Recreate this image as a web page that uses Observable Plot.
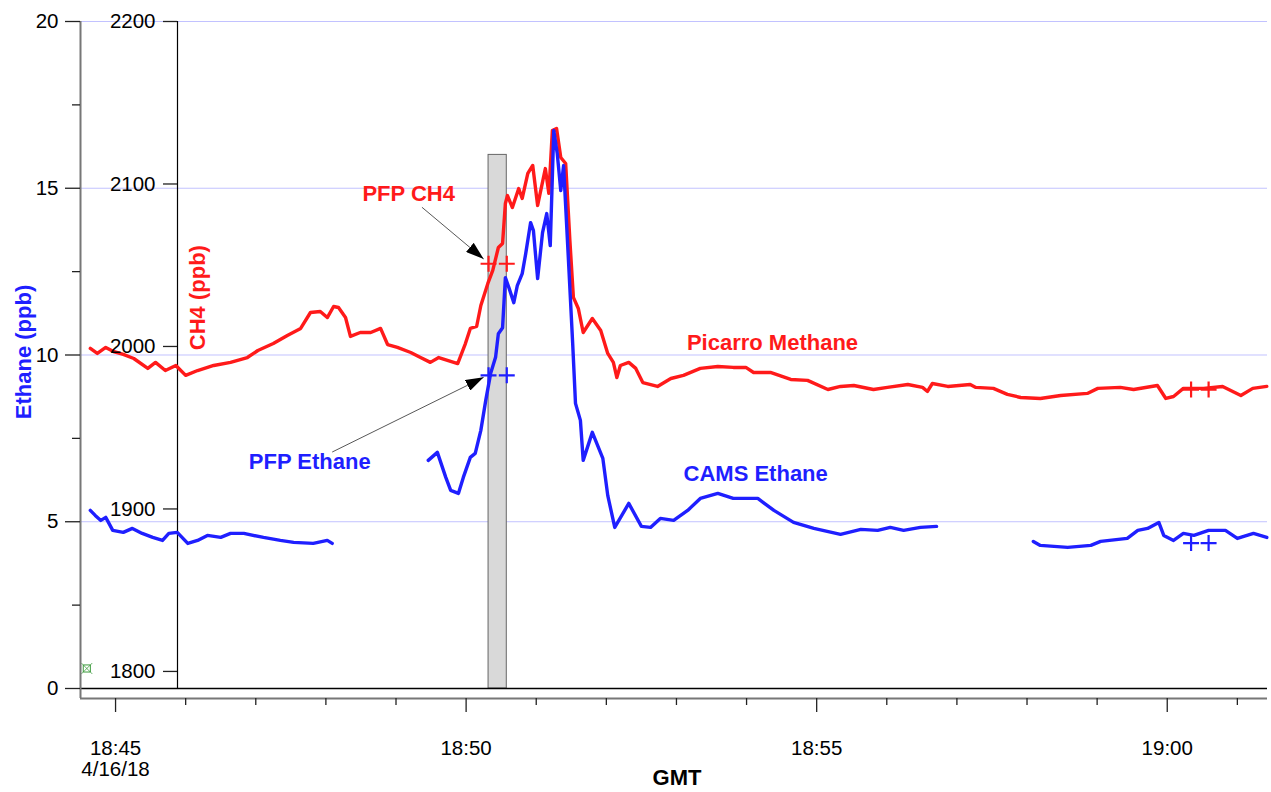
<!DOCTYPE html>
<html>
<head>
<meta charset="utf-8">
<script src="https://cdn.jsdelivr.net/npm/d3@7"></script>
<script src="https://cdn.jsdelivr.net/npm/@observablehq/plot@0.6"></script>
<style>
html, body { margin: 0; padding: 0; background: #fff; }
#chart svg { display: block; }
</style>
</head>
<body>
<div id="chart"></div>
<script>
// ---- DATA (time in minutes after 18:00 GMT, 4/16/18) ----
const ch4Time = [44.64,44.74,44.86,44.97,45.11,45.26,45.46,45.57,45.71,45.86,46.00,46.17,46.40,46.64,46.88,47.03,47.25,47.45,47.64,47.78,47.92,48.02,48.11,48.18,48.28,48.35,48.49,48.64,48.78,48.88,49.02,49.21,49.35,49.49,49.61,49.88,49.99,50.06,50.15,50.21,50.31,50.38,50.46,50.52,50.56,50.59,50.66,50.75,50.80,50.88,50.95,51.02,51.13,51.18,51.23,51.29,51.35,51.42,51.48,51.53,51.60,51.67,51.80,51.92,52.02,52.10,52.15,52.20,52.32,52.42,52.52,52.73,52.92,53.10,53.34,53.59,53.81,53.99,54.10,54.34,54.63,54.87,55.16,55.34,55.53,55.81,56.01,56.30,56.51,56.58,56.65,56.87,57.19,57.27,57.52,57.72,57.91,58.19,58.48,58.86,59.01,59.33,59.52,59.86,59.98,60.09,60.23,60.52,60.79,61.05,61.22,61.42];
const ch4Value = [1998.8,1995.7,1999.4,1996.9,1995.1,1992.6,1986.5,1990.2,1985.2,1988.3,1982.2,1985.2,1988.3,1990.2,1993.2,1997.5,2001.8,2006.8,2011.1,2020.9,2021.5,2017.8,2024.6,2024.0,2017.8,2006.2,2008.6,2008.6,2011.1,2001.2,1999.4,1996.3,1993.2,1990.2,1993.2,1989.5,2001.8,2011.1,2012.3,2025.2,2038.8,2046.8,2060.9,2063.4,2088.0,2092.9,2085.5,2097.2,2091.1,2106.5,2111.4,2086.8,2109.5,2094.2,2132.9,2134.2,2116.3,2112.6,2065.2,2030.2,2023.4,2008.6,2017.2,2009.8,1995.7,1990.2,1980.9,1988.3,1990.2,1986.5,1977.8,1975.4,1980.3,1982.2,1986.5,1987.7,1987.1,1987.1,1984.0,1984.0,1979.7,1979.1,1973.5,1975.4,1976.0,1973.5,1974.8,1976.6,1974.8,1972.3,1977.2,1975.4,1976.6,1974.8,1974.2,1970.5,1968.6,1968.0,1969.8,1971.1,1974.2,1974.8,1973.5,1976.0,1968.0,1969.2,1974.2,1974.2,1975.4,1969.8,1974.2,1975.4];

const ethaneTime = [44.64,44.71,44.79,44.86,44.96,45.11,45.24,45.38,45.53,45.67,45.76,45.88,46.03,46.17,46.31,46.50,46.64,46.83,47.11,47.35,47.54,47.82,48.02,48.09,
  48.80,
  49.46,49.59,49.71,49.78,49.89,49.96,50.06,50.13,50.21,50.28,50.35,50.42,50.46,50.52,50.56,50.61,50.68,50.73,50.80,50.85,50.92,50.96,51.02,51.09,51.15,51.20,51.25,51.30,51.35,51.39,51.46,51.52,51.56,51.63,51.67,51.80,51.95,52.02,52.12,52.32,52.50,52.63,52.77,52.96,53.16,53.34,53.59,53.81,54.16,54.39,54.67,54.96,55.34,55.63,55.87,56.05,56.24,56.48,56.71,
  57.40,
  58.09,58.19,58.58,58.91,59.05,59.43,59.58,59.72,59.88,59.95,60.09,60.23,60.38,60.59,60.83,61.00,61.23,61.42];
const ethaneValue = [5.34,5.19,5.04,5.13,4.74,4.68,4.80,4.65,4.53,4.44,4.65,4.68,4.35,4.44,4.59,4.53,4.65,4.65,4.53,4.44,4.38,4.35,4.44,4.35,
  NaN,
  6.84,7.08,6.33,5.94,5.85,6.33,6.93,7.05,7.74,8.64,9.45,9.93,10.64,10.82,12.32,12.02,11.57,12.08,12.44,13.04,13.97,13.73,12.29,13.67,14.24,13.28,16.73,16.04,14.93,15.68,12.83,10.34,8.55,8.04,6.84,7.68,6.90,5.79,4.83,5.55,4.86,4.83,5.10,5.04,5.34,5.70,5.85,5.70,5.70,5.34,4.98,4.80,4.62,4.77,4.74,4.83,4.74,4.83,4.86,
  NaN,
  4.41,4.29,4.23,4.29,4.41,4.50,4.74,4.80,4.98,4.59,4.44,4.65,4.59,4.74,4.74,4.50,4.65,4.53];

// PFP flask samples (fill start / end)
const pfpStart = [50.32, 60.34];
const pfpEnd = [50.58, 60.59];
const pfpCH4 = [2050.9, 1973.5];
const pfpEthane = [9.39, 4.36];
const sampleWindowTop = 16;          // ethane ppb, shaded fill window of first PFP

// single stray marker near the origin
const markerTime = [44.59];
const markerValue = [0.6];

// axes
const xDomainMin = [44.5, 61.43];
const xTickMinutes = [45, 50, 55, 60];
const xTickLabels = ["18:45\n4/16/18", "18:50", "18:55", "19:00"];
const xMinorMinutes = [46, 47, 48, 49, 51, 52, 53, 54, 56, 57, 58, 59, 61];
const ethaneTicks = [0, 5, 10, 15, 20];
const ethaneMinorTicks = [2.5, 7.5, 12.5, 17.5];
const ethaneGrid = [5, 10, 15, 20];
const ch4Ticks = [1800, 1900, 2000, 2100, 2200];
const ch4Range = [1789.5, 2200];     // CH4 span matching ethane [0, 20]

// annotations (positions in minutes / ethane-axis units)
const labelText = ["PFP CH4", "PFP Ethane", "Picarro Methane", "CAMS Ethane"];
const labelTime = [49.18, 47.77, 54.37, 54.13];
const labelValue = [14.84, 6.78, 10.35, 6.42];
const labelColor = ["red", "blue", "red", "blue"];
const arrowFromTime = [49.37, 48.09];
const arrowFromValue = [14.43, 7.09];
const arrowToTime = [50.25, 50.25];
const arrowToValue = [12.88, 9.33];

// ---- helpers ----
const RED = "#ff1a1a";
const BLUE = "#1f1fff";
const colorOf = {red: RED, blue: BLUE};
const ethSpan = [0, 20];
const toEth = c => (c - ch4Range[0]) / (ch4Range[1] - ch4Range[0]) * (ethSpan[1] - ethSpan[0]);
const fromEth = e => ch4Range[0] + e / (ethSpan[1] - ethSpan[0]) * (ch4Range[1] - ch4Range[0]);

const ch4Data = ch4Time.map((t, i) => ({t, v: toEth(ch4Value[i])}));
const ethData = ethaneTime.map((t, i) => ({t, v: ethaneValue[i]}));
const pfpPts = pfpStart.flatMap((s, i) => [s, pfpEnd[i]].map(t => ({t, ch4: toEth(pfpCH4[i]), eth: pfpEthane[i]})));
const windowRect = [{x1: pfpStart[0], x2: pfpEnd[0], y1: 0, y2: sampleWindowTop}];
const labels = labelText.map((text, i) => ({text, t: labelTime[i], v: labelValue[i], c: colorOf[labelColor[i]]}));
const arrows = arrowFromTime.map((t, i) => ({x1: t, y1: arrowFromValue[i], x2: arrowToTime[i], y2: arrowToValue[i]}));
const stray = markerTime.map((t, i) => ({t, v: markerValue[i]}));

function arrowHead(color, context) {
  const doc = (context && context.document) || document;
  const ns = "http://www.w3.org/2000/svg";
  const m = doc.createElementNS(ns, "marker");
  m.setAttribute("viewBox", "-18 -6 18 12");
  m.setAttribute("markerWidth", "18");
  m.setAttribute("markerHeight", "12");
  m.setAttribute("markerUnits", "userSpaceOnUse");
  m.setAttribute("orient", "auto");
  m.setAttribute("refX", "0");
  m.setAttribute("refY", "0");
  const p = doc.createElementNS(ns, "path");
  p.setAttribute("d", "M0,0L-18,-6L-18,6Z");
  p.setAttribute("fill", "black");
  p.setAttribute("stroke", "none");
  m.appendChild(p);
  return m;
}

const FONT = "'Liberation Sans', Arial, Helvetica, sans-serif";
const ch4AxisOffset = 97;

const chart = Plot.plot({
  width: 1271,
  height: 792,
  marginLeft: 80,
  marginRight: 4,
  marginTop: 21,
  marginBottom: 94,
  style: {fontFamily: FONT, fontSize: "20px", color: "black", background: "white"},
  x: {type: "linear", domain: xDomainMin, axis: null},
  y: {type: "linear", domain: [-0.3, 20], axis: null},
  marks: [
    Plot.ruleY(ethaneGrid, {stroke: "#c2c2ff", strokeWidth: 1}),
    Plot.rect(windowRect, {x1: "x1", x2: "x2", y1: "y1", y2: "y2", fill: "#d9d9d9", stroke: "#666", strokeWidth: 1}),
    Plot.ruleY([0], {stroke: "black", strokeWidth: 1.5}),
    Plot.ruleX([xDomainMin[0]], {y1: 0, y2: 20, dx: ch4AxisOffset, stroke: "black", strokeWidth: 1.2}),
    Plot.line(ch4Data, {x: "t", y: "v", stroke: RED, strokeWidth: 3.4, strokeLinejoin: "round"}),
    Plot.line(ethData, {x: "t", y: "v", stroke: BLUE, strokeWidth: 3.4, strokeLinejoin: "round"}),
    Plot.dot(pfpPts, {x: "t", y: "ch4", symbol: "plus", r: 5.2, stroke: RED, strokeWidth: 2.2}),
    Plot.dot(pfpPts, {x: "t", y: "eth", symbol: "plus", r: 5.2, stroke: BLUE, strokeWidth: 2.2}),
    Plot.dot(stray, {x: "t", y: "v", symbol: "square", r: 4, stroke: "#3c9a3c", strokeWidth: 1}),
    Plot.dot(stray, {x: "t", y: "v", symbol: "times", r: 5, stroke: "#3c9a3c", strokeWidth: 0.8}),
    Plot.link(arrows, {x1: "x1", y1: "y1", x2: "x2", y2: "y2", stroke: "#444", strokeWidth: 0.9, markerEnd: arrowHead}),
    Plot.text(labels, {x: "t", y: "v", text: "text", fill: "c", fontSize: 22, fontWeight: "bold"}),
    // axis titles
    Plot.text(["Ethane (ppb)"], {frameAnchor: "left", y: [10.09], dx: -57, rotate: -90, textAnchor: "middle", lineAnchor: "middle", fill: BLUE, fontSize: 22, fontWeight: "bold"}),
    Plot.text(["CH4 (ppb)"], {x: [46.17], y: [11.72], rotate: -90, fill: RED, fontSize: 22, fontWeight: "bold"}),
    Plot.text(["GMT"], {frameAnchor: "bottom", dy: 79, dx: 3, textAnchor: "middle", lineAnchor: "middle", fill: "black", fontSize: 22, fontWeight: "bold"}),
    // frame lines
    Plot.ruleX([xDomainMin[0]], {stroke: "#777", strokeWidth: 2}),
    Plot.ruleY([-0.3], {stroke: "#777", strokeWidth: 2}),
    // ethane axis
    Plot.axisY(ethaneTicks, {anchor: "left", tickSize: 15, tickPadding: 7, fontSize: 20.5, stroke: "#222", strokeWidth: 1.3, tickFormat: d => String(d), label: null}),
    Plot.axisY(ethaneMinorTicks, {anchor: "left", tickSize: 8, stroke: "#222", strokeWidth: 1.3, tickFormat: () => "", label: null}),
    // CH4 axis
    Plot.axisY(ch4Ticks.map(toEth), {anchor: "left", dx: ch4AxisOffset, tickSize: 14, tickPadding: 8, fontSize: 20.5, stroke: "#222", strokeWidth: 1.3, tickFormat: d => String(Math.round(fromEth(d))), label: null}),
    // time axis
    Plot.axisX(xTickMinutes, {anchor: "bottom", tickSize: 14, tickPadding: 27, fontSize: 20.5, lineHeight: 1.05, stroke: "#222", strokeWidth: 1.3, tickFormat: d => xTickLabels[xTickMinutes.indexOf(d)], label: null}),
    Plot.axisX(xMinorMinutes, {anchor: "bottom", tickSize: 7, stroke: "#222", strokeWidth: 1.3, tickFormat: () => "", label: null})
  ]
});
document.getElementById("chart").appendChild(chart);
</script>
</body>
</html>
